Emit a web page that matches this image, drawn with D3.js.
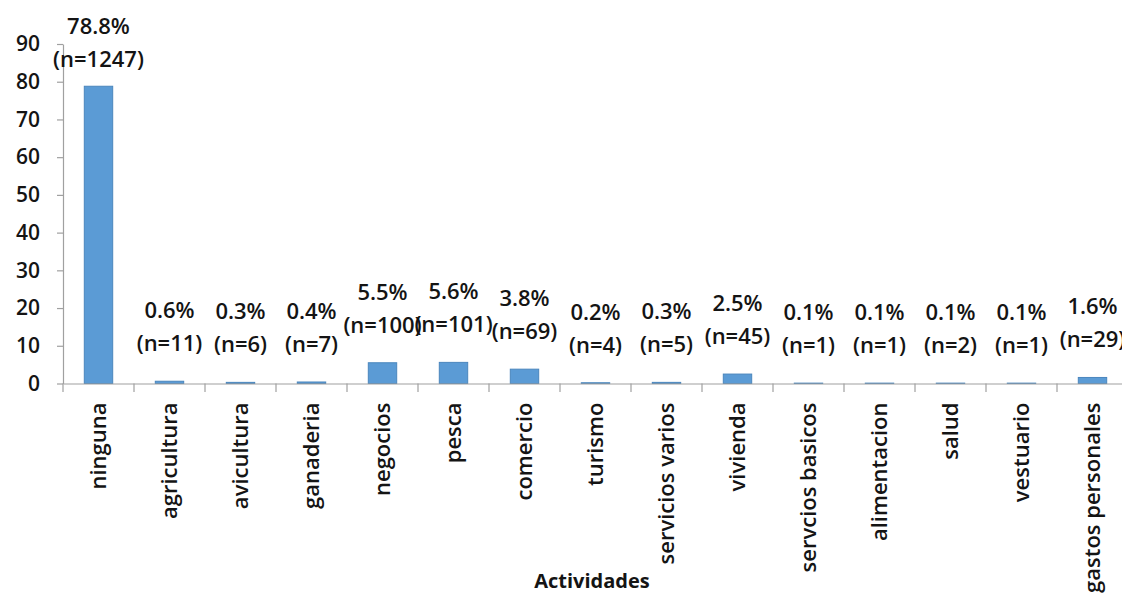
<!DOCTYPE html>
<html>
<head>
<meta charset="utf-8">
<script src="https://cdn.jsdelivr.net/npm/d3@7"></script>
<style>
  html, body { margin: 0; padding: 0; background: #ffffff; }
  svg { display: block; }
  text { font-family: "Open Sans", "Noto Sans", sans-serif; fill: #141414; font-weight: 600; }
</style>
</head>
<body>
<svg id="chart" width="1122" height="594"></svg>
<script>
const categories = ["ninguna", "agricultura", "avicultura", "ganaderia", "negocios", "pesca", "comercio",
  "turismo", "servicios varios", "vivienda", "servcios basicos", "alimentacion", "salud", "vestuario", "gastos personales"];
const percents = [78.8, 0.6, 0.3, 0.4, 5.5, 5.6, 3.8, 0.2, 0.3, 2.5, 0.1, 0.1, 0.1, 0.1, 1.6];
const counts = [1247, 11, 6, 7, 100, 101, 69, 4, 5, 45, 1, 1, 2, 1, 29];
const yTicks = [0, 10, 20, 30, 40, 50, 60, 70, 80, 90];
const xTitle = "Actividades";

const svg = d3.select("#chart");
const W = 1122, H = 594;
svg.append("rect").attr("width", W).attr("height", H).attr("fill", "#ffffff");

const x = d3.scaleBand().domain(categories).range([63, 1128]).padding(0);
const y = d3.scaleLinear().domain([0, 90]).range([383.5, 44]);
const axisColor = "#a0a0a0";
const fontFam = '"Open Sans", "Noto Sans", sans-serif';

// Y axis
const yAxis = svg.append("g").attr("transform", "translate(63,0)")
  .call(d3.axisLeft(y).tickValues(yTicks).tickSize(6).tickSizeOuter(0).tickPadding(17));
yAxis.select(".domain").attr("stroke", axisColor).attr("stroke-width", 1.2);
yAxis.selectAll(".tick line").attr("stroke", axisColor).attr("stroke-width", 1.2);
yAxis.selectAll(".tick text").style("font-size", "21px").style("font-family", fontFam)
  .style("font-weight", 600).attr("fill", "#141414");

// Bars
const data = categories.map((c, i) => ({ c, p: percents[i], n: counts[i] }));
const bw = x.bandwidth();
svg.append("g").selectAll("rect").data(data).join("rect")
  .attr("x", d => x(d.c) + bw * 0.3)
  .attr("width", bw * 0.4)
  .attr("y", d => y(d.p))
  .attr("height", d => y(0) - y(d.p))
  .attr("fill", "#5b9bd5")
  .attr("stroke", "#4a86bd")
  .attr("stroke-width", 1);

// X axis line
const xAxis = svg.append("g").attr("transform", `translate(0,${y(0)})`)
  .call(d3.axisBottom(x).tickSize(0).tickSizeOuter(0));
xAxis.select(".domain").attr("stroke", axisColor).attr("stroke-width", 1.2);
xAxis.selectAll(".tick text")
  .attr("transform", "rotate(-90)")
  .attr("x", -19)
  .attr("y", 0)
  .attr("dy", "0.36em")
  .attr("text-anchor", "end")
  .style("font-size", "22px")
  .style("font-family", fontFam)
  .style("font-weight", 600)
  .attr("fill", "#141414");

// boundary ticks
svg.append("g").selectAll("line").data(categories.concat([null])).join("line")
  .attr("x1", d => d === null ? x.range()[1] : x(d))
  .attr("x2", d => d === null ? x.range()[1] : x(d))
  .attr("y1", y(0))
  .attr("y2", y(0) + 8.5)
  .attr("stroke", axisColor)
  .attr("stroke-width", 1.2);

// Data labels
const lbl = svg.append("g").selectAll("g").data(data).join("g")
  .attr("transform", d => `translate(${x(d.c) + bw / 2},${Math.max(y(d.p) - 30, 67)})`);
lbl.append("text").attr("text-anchor", "middle").attr("y", 0)
  .style("font-size", "22px").text(d => `(n=${d.n})`);
lbl.append("text").attr("text-anchor", "middle").attr("y", -33)
  .style("font-size", "22px").text(d => `${d.p.toFixed(1)}%`);

// Axis title
svg.append("text").attr("x", 592).attr("y", 588).attr("text-anchor", "middle")
  .style("font-size", "20px").style("font-weight", "bold").text(xTitle);
</script>
</body>
</html>
